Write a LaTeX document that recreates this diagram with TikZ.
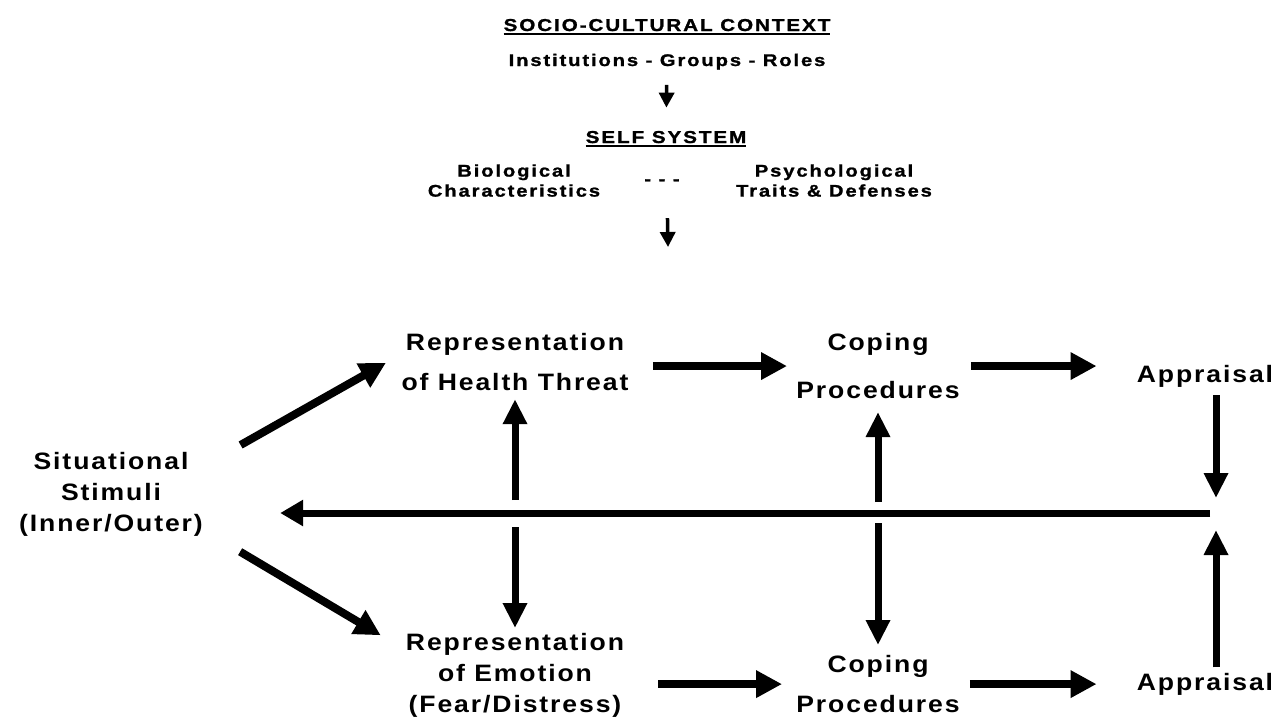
\documentclass[tikz,border=0pt]{standalone}
\usepackage{fontspec}
\usetikzlibrary{arrows.meta}
\newfontfamily\capfont{Liberation Sans}[FakeStretch=1.2,LetterSpace=11,FakeBold=1.2]
\newfontfamily\diagfont{Liberation Sans}[FakeStretch=1.12,LetterSpace=8]
\newcommand\ulbar[1]{\setbox0\hbox{#1}\leavevmode\rlap{\rule[-2.2pt]{\wd0}{1.1pt}}\box0}
\begin{document}
\begin{tikzpicture}[x=0.02cm, y=-0.02cm, line join=round, inner sep=0pt,
head/.style={font=\capfont\bfseries\fontsize{9.8}{11}\selectfont},
sub/.style={font=\capfont\bfseries\fontsize{9.6}{11.4}\selectfont, align=center},
box/.style={font=\diagfont\bfseries\fontsize{13.5}{17.6}\selectfont, align=center},
thin/.style={-{Triangle[length=0.3cm,width=0.3cm]}, line width=0.07cm},
fat/.style={-{Triangle[length=0.52cm,width=0.52cm]}, line width=0.16cm},
mid/.style={-{Triangle[length=0.5cm,width=0.46cm]}, line width=0.14cm}]
\useasboundingbox (0,0) rectangle (1277,718);
%top part
\node[head, anchor=base] (socio) at (667,31) {\ulbar{SOCIO-CULTURAL CONTEXT}};
\node[sub, anchor=base] (inst) at (667,66) {Institutions - Groups - Roles};
\node[head, anchor=base] (self) at (666,143) {\ulbar{SELF SYSTEM}};
\node[sub, anchor=north] (bio) at (514,164) {Biological\\Characteristics};
\node[sub] (dash) at (662,182) {- - -};
\node[sub, anchor=north] (psy) at (834,164) {Psychological\\Traits \& Defenses};
\path (668,247) coordinate (down)
(1216,513) coordinate (fb);
\draw[thin, shorten <=0.3cm, shorten >=0.46cm] (inst) -- (self);
\draw[thin, shorten <=1.42cm] (self) -- (down);
%main part
\node[box, anchor=north] (stim) at (111,452) {Situational\\Stimuli\\(Inner/Outer)};
\node[box, anchor=north] (rht) at (515,333) {Representation\\[5.2pt]of Health Threat};
\node[box, anchor=north] (cpt) at (878,333) {Coping\\[9.7pt]Procedures};
\node[box, anchor=base] (apt) at (1205,382) {Appraisal};
\node[box, anchor=north] (ree) at (515,633) {Representation\\of Emotion\\(Fear/Distress)};
\node[box, anchor=north] (cpb) at (878,655) {Coping\\[5.2pt]Procedures};
\node[box, anchor=base] (apb) at (1205,690) {Appraisal};
\draw[fat, shorten <=0.86cm, shorten >=0.35cm] (stim.17) -- (rht.176);
\draw[fat, shorten <=0.86cm, shorten >=0.58cm] (stim.-21) -- (ree.167);
\draw[fat, shorten <=0.48cm, shorten >=0.18cm] (rht.east |- cpt.west) -- (cpt.west);
\draw[fat, shorten <=0.22cm, shorten >=0.8cm] (cpt.east) -- (cpt.east -| apt.west);
\draw[fat, shorten <=0.68cm, shorten >=0.28cm] (ree.east |- cpb.west) -- (cpb.west);
\draw[fat, shorten <=0.2cm, shorten >=0.8cm] (cpb.east) -- (cpb.east -| apb.west);
%feedback
\draw[-{Triangle[length=0.46cm,width=0.5cm]}, line width=0.14cm, shorten <=0.12cm, shorten >=1.54cm] (fb) -- (fb -| stim.east);
\draw[mid, shorten <=0.26cm, shorten >=0.16cm] (rht.south |- fb) -- (rht.south);
\draw[mid, shorten <=0.28cm, shorten >=0.1cm] (ree.north |- fb) -- (ree.north);
\draw[mid, shorten <=0.22cm, shorten >=0.26cm] (cpt.south |- fb) -- (cpt.south);
\draw[mid, shorten <=0.2cm, shorten >=0.2cm] (cpb.north |- fb) -- (cpb.north);
\draw[mid, shorten <=0.16cm, shorten >=0.3cm] (apt.south -| fb) -- (fb);
\draw[mid, shorten <=0.1cm, shorten >=0.34cm] (apb.north -| fb) -- (fb);
\end{tikzpicture}
\end{document}
